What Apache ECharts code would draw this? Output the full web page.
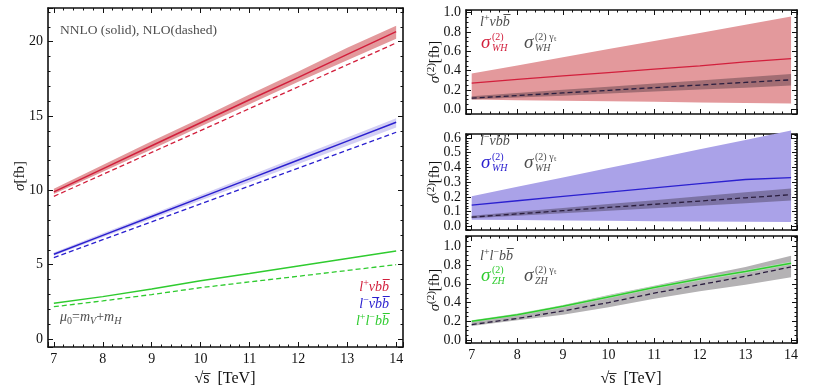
<!DOCTYPE html>
<html>
<head>
<meta charset="utf-8">
<script src="https://cdn.jsdelivr.net/npm/echarts@6/dist/echarts.min.js"></script>
<style>
  html, body { margin: 0; padding: 0; background: #fff; }
  #chart { width: 830px; height: 387px; }
</style>
</head>
<body>
<div id="chart"></div>
<script>
// sqrt(s) in TeV
const xs = [7, 8, 9, 10, 11, 12, 13, 14];

// left panel: sigma [fb], NNLO (solid) with scale band, NLO (dashed)
const lvbbNNLO   = [9.9, 11.45, 13.0, 14.55, 16.1, 17.6, 19.15, 20.68];
const lvbbNNLOhi = [10.1, 11.7, 13.3, 14.85, 16.45, 18.0, 19.6, 21.08];
const lvbbNNLOlo = [9.75, 11.25, 12.75, 14.3, 15.8, 17.3, 18.75, 20.2];
const lvbbNLO    = [9.6, 11.07, 12.55, 14.02, 15.5, 16.97, 18.45, 19.92];

const lnubbNNLO   = [5.70, 6.97, 8.24, 9.51, 10.77, 12.04, 13.31, 14.58];
const lnubbNNLOhi = [5.82, 7.11, 8.40, 9.69, 10.98, 12.27, 13.56, 14.86];
const lnubbNNLOlo = [5.60, 6.84, 8.08, 9.32, 10.55, 11.78, 13.0, 14.23];
const lnubbNLO    = [5.47, 6.68, 7.88, 9.09, 10.29, 11.50, 12.70, 13.91];

const llbbNNLO = [2.40, 2.85, 3.36, 3.92, 4.40, 4.91, 5.42, 5.92];
const llbbNLO  = [2.17, 2.56, 2.99, 3.45, 3.84, 4.22, 4.61, 5.00];

// right panels: sigma^(2) [fb]
const whPlus     = [0.27, 0.31, 0.345, 0.38, 0.415, 0.45, 0.49, 0.525];
const whPlusHi   = [0.37, 0.454, 0.539, 0.623, 0.707, 0.791, 0.876, 0.96];
const whPlusLo   = [0.10, 0.094, 0.089, 0.083, 0.077, 0.071, 0.066, 0.06];
const whPlusYt   = [0.115, 0.142, 0.169, 0.196, 0.224, 0.251, 0.278, 0.305];
const whPlusYtHi = [0.135, 0.168, 0.201, 0.234, 0.266, 0.299, 0.332, 0.365];
const whPlusYtLo = [0.10, 0.121, 0.141, 0.162, 0.183, 0.204, 0.224, 0.245];

const whMinus     = [0.145, 0.174, 0.203, 0.232, 0.261, 0.29, 0.318, 0.33];
const whMinusHi   = [0.205, 0.269, 0.332, 0.396, 0.459, 0.523, 0.586, 0.65];
const whMinusLo   = [0.045, 0.043, 0.041, 0.039, 0.036, 0.034, 0.032, 0.03];
const whMinusYt   = [0.063, 0.085, 0.107, 0.129, 0.15, 0.172, 0.194, 0.215];
const whMinusYtHi = [0.073, 0.099, 0.125, 0.152, 0.178, 0.204, 0.231, 0.257];
const whMinusYtLo = [0.055, 0.072, 0.089, 0.106, 0.123, 0.14, 0.157, 0.175];

const zh     = [0.20, 0.27, 0.36, 0.46, 0.56, 0.65, 0.73, 0.82];
const zhHi   = [0.212, 0.283, 0.374, 0.474, 0.574, 0.664, 0.744, 0.834];
const zhLo   = [0.19, 0.258, 0.346, 0.446, 0.546, 0.636, 0.716, 0.806];
const zhYt   = [0.165, 0.23, 0.31, 0.40, 0.50, 0.59, 0.68, 0.78];
const zhYtHi = [0.20, 0.27, 0.37, 0.48, 0.58, 0.68, 0.78, 0.90];
const zhYtLo = [0.15, 0.21, 0.27, 0.35, 0.44, 0.52, 0.59, 0.67];

// tick labels
const xTicks = [7, 8, 9, 10, 11, 12, 13, 14];
const yTicksLeft = [0, 5, 10, 15, 20];
const yTicksTop = [0, 0.2, 0.4, 0.6, 0.8, 1.0];
const yTicksMid = [0, 0.1, 0.2, 0.3, 0.4, 0.5, 0.6];
const yTicksBot = [0, 0.2, 0.4, 0.6, 0.8, 1.0];

const FONT = 'Liberation Serif';
const INK = '#111';
const GRAY = '#4d4d4d';
const RED = '#d21f3c', PINK = '#e3999c';
const BLUE = '#2b20cf', LAV = '#aaa2e8', LAVLIGHT = '#d3cff4';
const GREEN = '#2fcb2f';
const DASH = '#2b1e3f';
const SHADE = 'rgba(40,30,40,0.35)';

const grids = [
  { left: 48, top: 8, width: 355, height: 339 },
  { left: 466, top: 10, width: 331, height: 104 },
  { left: 466, top: 134, width: 331, height: 96 },
  { left: 466, top: 236, width: 331, height: 107 }
];
const xAxes = [], yAxes = [];

// Mathematica-like frame on 4 sides: major + minor ticks inside.
// min/maxInterval pin the tick step so ticks sit on multiples of it.
function frame(g, xr, yr, xStep, xMinor, yStep, yMinor, xLab, yLab, yFmt) {
  const xi = xAxes.length, yi = yAxes.length;
  const label = (vals, fmt) => ({
    show: true, customValues: vals, margin: 5, color: INK,
    fontFamily: FONT, fontSize: 14, formatter: fmt
  });
  const ax = (pos, r, step, len, lineOn, lab) => ({
    type: 'value', gridIndex: g, position: pos, min: r[0], max: r[1],
    minInterval: step, maxInterval: step, splitLine: { show: false },
    axisLine: { show: lineOn, onZero: false, lineStyle: { color: INK, width: 1.6 } },
    axisTick: { show: true, inside: true, length: len, lineStyle: { color: INK, width: 1 } },
    axisLabel: lab || { show: false }
  });
  xAxes.push(ax('bottom', xr, xStep, 5, true, xLab ? label(xLab, v => String(v)) : null));
  xAxes.push(ax('bottom', xr, xMinor, 2.5, false));
  xAxes.push(ax('top', xr, xStep, 5, true));
  xAxes.push(ax('top', xr, xMinor, 2.5, false));
  yAxes.push(ax('left', yr, yStep, 5, true, label(yLab, yFmt)));
  yAxes.push(ax('left', yr, yMinor, 2.5, false));
  yAxes.push(ax('right', yr, yStep, 5, true));
  yAxes.push(ax('right', yr, yMinor, 2.5, false));
  return [xi, yi];
}

const A0 = frame(0, [6.88, 14.14], [-0.54, 22.27], 1, 0.2, 5, 1, xTicks, yTicksLeft, v => String(v));
const A1 = frame(1, [6.875, 14.13], [-0.049, 1.028], 1, 0.2, 0.2, 0.05, null, yTicksTop, v => v.toFixed(1));
const A2 = frame(2, [6.875, 14.13], [-0.024, 0.626], 1, 0.2, 0.1, 0.02, null, yTicksMid, v => v.toFixed(1));
const A3 = frame(3, [6.875, 14.13], [-0.032, 1.11], 1, 0.2, 0.2, 0.05, xTicks, yTicksBot, v => v.toFixed(1));

const pts = arr => xs.map((x, i) => [x, arr[i]]);

function line(ax, arr, color, dashed, width, z) {
  return {
    type: 'line', xAxisIndex: ax[0], yAxisIndex: ax[1], data: pts(arr),
    symbol: 'none', silent: true, z: z || 5,
    lineStyle: { color: color, width: width || 1.4, type: dashed ? [5, 3] : 'solid' }
  };
}
// filled band between lo and hi, mapped through the axes with api.coord
function band(ax, lo, hi, color, z) {
  return {
    type: 'custom', coordinateSystem: 'cartesian2d',
    xAxisIndex: ax[0], yAxisIndex: ax[1],
    data: xs.map((x, i) => [x, lo[i], hi[i]]),
    encode: { x: 0, y: [1, 2] }, silent: true, z: z || 2,
    renderItem: (params, api) => {
      if (params.dataIndex !== 0) return null;
      const top = xs.map((x, i) => api.coord([x, hi[i]]));
      const bot = xs.map((x, i) => api.coord([x, lo[i]])).reverse();
      return { type: 'polygon', shape: { points: top.concat(bot) }, style: { fill: color } };
    }
  };
}

const series = [
  band(A0, lvbbNNLOlo, lvbbNNLOhi, PINK, 2),
  band(A0, lnubbNNLOlo, lnubbNNLOhi, LAVLIGHT, 2),
  line(A0, lvbbNNLO, RED, false, 1.5),
  line(A0, lvbbNLO, RED, true, 1.3),
  line(A0, lnubbNNLO, BLUE, false, 1.5),
  line(A0, lnubbNLO, BLUE, true, 1.3),
  line(A0, llbbNNLO, GREEN, false, 1.5),
  line(A0, llbbNLO, GREEN, true, 1.3),

  band(A1, whPlusLo, whPlusHi, PINK, 2),
  band(A1, whPlusYtLo, whPlusYtHi, SHADE, 3),
  line(A1, whPlus, RED, false, 1.3),
  line(A1, whPlusYt, DASH, true, 1.3),

  band(A2, whMinusLo, whMinusHi, LAV, 2),
  band(A2, whMinusYtLo, whMinusYtHi, SHADE, 3),
  line(A2, whMinus, BLUE, false, 1.3),
  line(A2, whMinusYt, DASH, true, 1.3),

  band(A3, zhYtLo, zhYtHi, '#b4b2b4', 2),
  band(A3, zhLo, zhHi, '#b9e9b9', 3),
  line(A3, zh, GREEN, false, 1.5),
  line(A3, zhYt, DASH, true, 1.3)
];

// rich text helper: i = italic, n = normal, sp = superscript, sb = subscript
function rich(x, y, text, color, size, opts) {
  const o = opts || {};
  const base = { fontFamily: FONT, fill: color, fontSize: size, lineHeight: size + 4 };
  const small = { fontFamily: FONT, fill: color, fontSize: Math.round(size * 0.74), lineHeight: Math.round(size * 0.8) };
  return {
    type: 'text', x: x, y: y, silent: true, z: 50, rotation: o.rot || 0,
    style: {
      text: text, align: o.align || 'left', verticalAlign: 'middle',
      rich: {
        i: Object.assign({}, base, { fontStyle: 'italic' }),
        n: base,
        sp: Object.assign({}, small, { verticalAlign: 'top' }),
        sb: Object.assign({}, small, { verticalAlign: 'bottom' }),
        sbi: Object.assign({}, small, { verticalAlign: 'bottom', fontStyle: 'italic' })
      }
    }
  };
}
function txt(x, y, text, style, rot) {
  return {
    type: 'text', x: x, y: y, silent: true, z: 50, rotation: rot || 0,
    style: Object.assign({
      text: text, fill: GRAY, fontFamily: FONT, fontSize: 14,
      align: 'left', verticalAlign: 'middle'
    }, style)
  };
}
// sigma with stacked superscript / subscript
function sigma(x, y, color, sub, sup) {
  return [
    txt(x, y, 'σ', { fill: color, fontSize: 19, fontStyle: 'italic' }),
    txt(x + 11, y - 6, sup, { fill: color, fontSize: 10 }),
    txt(x + 11, y + 5, sub, { fill: color, fontSize: 10, fontStyle: 'italic' })
  ];
}

const LVBB = '{i|l}{sp|+}{i|νbb̅}';
const LNUBB = '{i|l}{sp|−}{i|ν̅bb̅}';
const LLBB = '{i|l}{sp|+}{i|l}{sp|−}{i|bb̅}';
const SIG2 = '{i|σ}{sp|(2)}{n|[fb]}';

const graphic = [
  txt(60, 30, 'NNLO (solid), NLO(dashed)', { fontSize: 13.5 }),
  rich(389, 287, LVBB, RED, 14, { align: 'right' }),
  rich(389, 304, LNUBB, BLUE, 14, { align: 'right' }),
  rich(389, 321, LLBB, GREEN, 14, { align: 'right' }),
  rich(60, 317, '{i|μ}{sb|0}{n|=}{i|m}{sbi|V}{n|+}{i|m}{sbi|H}', GRAY, 14),
  rich(20, 176, '{i|σ}{n|[fb]}', INK, 15, { rot: Math.PI / 2, align: 'center' }),
  txt(225, 379, '√s̅  [TeV]', { fill: INK, fontSize: 16, align: 'center' }),
  txt(631, 379, '√s̅  [TeV]', { fill: INK, fontSize: 16, align: 'center' }),
  rich(435, 62, SIG2, INK, 15, { rot: Math.PI / 2, align: 'center' }),
  rich(435, 182, SIG2, INK, 15, { rot: Math.PI / 2, align: 'center' }),
  rich(435, 290, SIG2, INK, 15, { rot: Math.PI / 2, align: 'center' }),

  rich(480, 22, LVBB, GRAY, 14),
  ...sigma(481, 43, RED, 'WH', '(2)'),
  ...sigma(524, 43, GRAY, 'WH', '(2) γₜ'),

  rich(480, 141, LNUBB, GRAY, 14),
  ...sigma(481, 163, BLUE, 'WH', '(2)'),
  ...sigma(524, 163, GRAY, 'WH', '(2) γₜ'),

  rich(480, 256, LLBB, GRAY, 14),
  ...sigma(481, 276, GREEN, 'ZH', '(2)'),
  ...sigma(524, 276, GRAY, 'ZH', '(2) γₜ')
];

const chart = echarts.init(document.getElementById('chart'));
chart.setOption({
  animation: false,
  backgroundColor: '#fff',
  grid: grids,
  xAxis: xAxes,
  yAxis: yAxes,
  series: series,
  graphic: graphic
});
</script>
</body>
</html>
